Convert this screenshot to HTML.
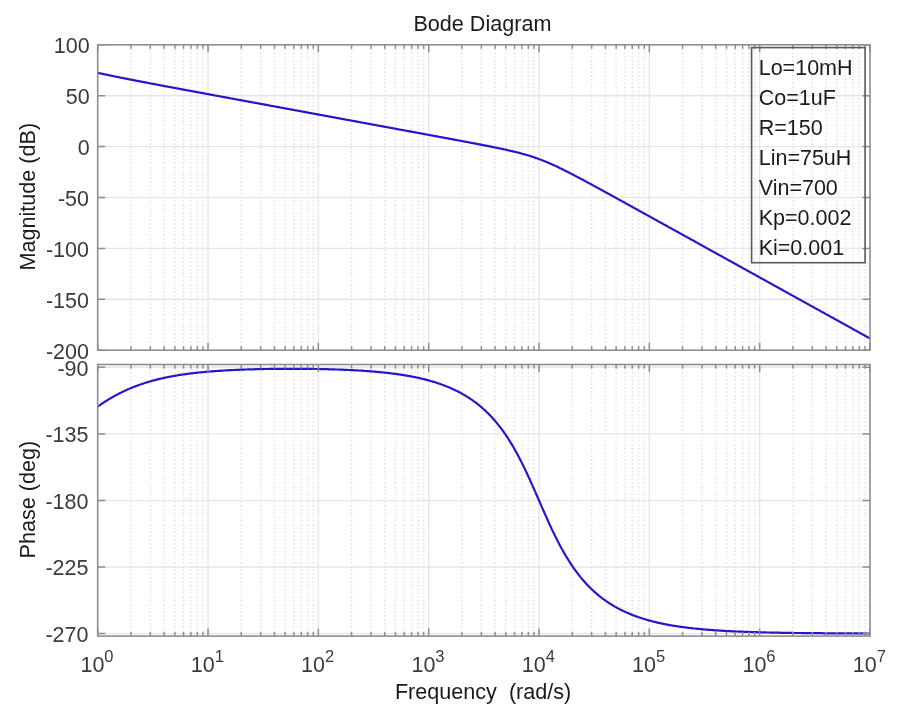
<!DOCTYPE html>
<html><head><meta charset="utf-8"><style>
html,body{margin:0;padding:0;background:#fff;}
body{width:906px;height:719px;position:relative;overflow:hidden;}
svg{position:absolute;left:0;top:0;font-family:"Liberation Sans",sans-serif;filter:blur(0.45px);}
</style></head><body>
<svg width="906" height="719" viewBox="0 0 906 719">
<path d="M130.91,44.8V350.2M150.34,44.8V350.2M164.12,44.8V350.2M174.82,44.8V350.2M183.55,44.8V350.2M190.94,44.8V350.2M197.34,44.8V350.2M202.98,44.8V350.2M241.24,44.8V350.2M260.67,44.8V350.2M274.45,44.8V350.2M285.14,44.8V350.2M293.88,44.8V350.2M301.27,44.8V350.2M307.67,44.8V350.2M313.31,44.8V350.2M351.57,44.8V350.2M371.00,44.8V350.2M384.78,44.8V350.2M395.47,44.8V350.2M404.21,44.8V350.2M411.60,44.8V350.2M417.99,44.8V350.2M423.64,44.8V350.2M461.90,44.8V350.2M481.33,44.8V350.2M495.11,44.8V350.2M505.80,44.8V350.2M514.54,44.8V350.2M521.92,44.8V350.2M528.32,44.8V350.2M533.97,44.8V350.2M572.23,44.8V350.2M591.65,44.8V350.2M605.44,44.8V350.2M616.13,44.8V350.2M624.87,44.8V350.2M632.25,44.8V350.2M638.65,44.8V350.2M644.29,44.8V350.2M682.56,44.8V350.2M701.98,44.8V350.2M715.77,44.8V350.2M726.46,44.8V350.2M735.20,44.8V350.2M742.58,44.8V350.2M748.98,44.8V350.2M754.62,44.8V350.2M792.88,44.8V350.2M812.31,44.8V350.2M826.10,44.8V350.2M836.79,44.8V350.2M845.52,44.8V350.2M852.91,44.8V350.2M859.31,44.8V350.2M864.95,44.8V350.2" stroke="#dcdcdc" stroke-width="1.4" stroke-dasharray="1.3 2.5"/>
<path d="M208.03,44.8V350.2M318.36,44.8V350.2M428.69,44.8V350.2M539.01,44.8V350.2M649.34,44.8V350.2M759.67,44.8V350.2M97.7,95.70H870.0M97.7,146.60H870.0M97.7,197.50H870.0M97.7,248.40H870.0M97.7,299.30H870.0" stroke="#e6e6e6" stroke-width="1.4"/>
<path d="M130.91,364.5V636.1M150.34,364.5V636.1M164.12,364.5V636.1M174.82,364.5V636.1M183.55,364.5V636.1M190.94,364.5V636.1M197.34,364.5V636.1M202.98,364.5V636.1M241.24,364.5V636.1M260.67,364.5V636.1M274.45,364.5V636.1M285.14,364.5V636.1M293.88,364.5V636.1M301.27,364.5V636.1M307.67,364.5V636.1M313.31,364.5V636.1M351.57,364.5V636.1M371.00,364.5V636.1M384.78,364.5V636.1M395.47,364.5V636.1M404.21,364.5V636.1M411.60,364.5V636.1M417.99,364.5V636.1M423.64,364.5V636.1M461.90,364.5V636.1M481.33,364.5V636.1M495.11,364.5V636.1M505.80,364.5V636.1M514.54,364.5V636.1M521.92,364.5V636.1M528.32,364.5V636.1M533.97,364.5V636.1M572.23,364.5V636.1M591.65,364.5V636.1M605.44,364.5V636.1M616.13,364.5V636.1M624.87,364.5V636.1M632.25,364.5V636.1M638.65,364.5V636.1M644.29,364.5V636.1M682.56,364.5V636.1M701.98,364.5V636.1M715.77,364.5V636.1M726.46,364.5V636.1M735.20,364.5V636.1M742.58,364.5V636.1M748.98,364.5V636.1M754.62,364.5V636.1M792.88,364.5V636.1M812.31,364.5V636.1M826.10,364.5V636.1M836.79,364.5V636.1M845.52,364.5V636.1M852.91,364.5V636.1M859.31,364.5V636.1M864.95,364.5V636.1" stroke="#dcdcdc" stroke-width="1.4" stroke-dasharray="1.3 2.5"/>
<path d="M208.03,364.5V636.1M318.36,364.5V636.1M428.69,364.5V636.1M539.01,364.5V636.1M649.34,364.5V636.1M759.67,364.5V636.1M97.7,367.30H870.0M97.7,433.88H870.0M97.7,500.45H870.0M97.7,567.02H870.0M97.7,633.60H870.0" stroke="#e6e6e6" stroke-width="1.4"/>
<path d="M97.7,72.8 L98.3,72.9 L99.0,73.1 L99.6,73.2 L100.3,73.4 L100.9,73.5 L101.6,73.6 L102.2,73.8 L102.9,73.9 L103.5,74.1 L104.1,74.2 L104.8,74.3 L105.4,74.5 L106.1,74.6 L106.7,74.7 L107.4,74.9 L108.0,75.0 L108.7,75.2 L109.3,75.3 L109.9,75.4 L110.6,75.6 L111.2,75.7 L111.9,75.8 L112.5,76.0 L113.2,76.1 L113.8,76.2 L114.4,76.4 L115.1,76.5 L115.7,76.6 L116.4,76.7 L117.0,76.9 L117.7,77.0 L118.3,77.1 L119.0,77.3 L119.6,77.4 L120.2,77.5 L120.9,77.7 L121.5,77.8 L122.2,77.9 L122.8,78.0 L123.5,78.2 L124.1,78.3 L124.8,78.4 L125.4,78.6 L126.0,78.7 L126.7,78.8 L127.3,78.9 L128.0,79.1 L128.6,79.2 L129.3,79.3 L129.9,79.4 L130.6,79.6 L131.2,79.7 L131.8,79.8 L132.5,79.9 L133.1,80.1 L133.8,80.2 L134.4,80.3 L135.1,80.4 L135.7,80.6 L136.3,80.7 L137.0,80.8 L137.6,80.9 L138.3,81.1 L138.9,81.2 L139.6,81.3 L140.2,81.4 L140.9,81.6 L141.5,81.7 L142.1,81.8 L142.8,81.9 L143.4,82.1 L144.1,82.2 L144.7,82.3 L145.4,82.4 L146.0,82.6 L146.7,82.7 L147.3,82.8 L147.9,82.9 L148.6,83.0 L149.2,83.2 L149.9,83.3 L150.5,83.4 L151.2,83.5 L151.8,83.7 L152.5,83.8 L153.1,83.9 L153.7,84.0 L154.4,84.1 L155.0,84.3 L155.7,84.4 L156.3,84.5 L157.0,84.6 L157.6,84.7 L158.2,84.9 L158.9,85.0 L159.5,85.1 L160.2,85.2 L160.8,85.4 L161.5,85.5 L162.1,85.6 L162.8,85.7 L163.4,85.8 L164.0,86.0 L164.7,86.1 L165.3,86.2 L166.0,86.3 L166.6,86.4 L167.3,86.6 L167.9,86.7 L168.6,86.8 L169.2,86.9 L169.8,87.0 L170.5,87.2 L171.1,87.3 L171.8,87.4 L172.4,87.5 L173.1,87.6 L173.7,87.8 L174.4,87.9 L175.0,88.0 L175.6,88.1 L176.3,88.2 L176.9,88.4 L177.6,88.5 L178.2,88.6 L178.9,88.7 L179.5,88.8 L180.1,89.0 L180.8,89.1 L181.4,89.2 L182.1,89.3 L182.7,89.4 L183.4,89.6 L184.0,89.7 L184.7,89.8 L185.3,89.9 L185.9,90.0 L186.6,90.2 L187.2,90.3 L187.9,90.4 L188.5,90.5 L189.2,90.6 L189.8,90.8 L190.5,90.9 L191.1,91.0 L191.7,91.1 L192.4,91.2 L193.0,91.4 L193.7,91.5 L194.3,91.6 L195.0,91.7 L195.6,91.8 L196.3,91.9 L196.9,92.1 L197.5,92.2 L198.2,92.3 L198.8,92.4 L199.5,92.5 L200.1,92.7 L200.8,92.8 L201.4,92.9 L202.0,93.0 L202.7,93.1 L203.3,93.3 L204.0,93.4 L204.6,93.5 L205.3,93.6 L205.9,93.7 L206.6,93.9 L207.2,94.0 L207.8,94.1 L208.5,94.2 L209.1,94.3 L209.8,94.5 L210.4,94.6 L211.1,94.7 L211.7,94.8 L212.4,94.9 L213.0,95.0 L213.6,95.2 L214.3,95.3 L214.9,95.4 L215.6,95.5 L216.2,95.6 L216.9,95.8 L217.5,95.9 L218.2,96.0 L218.8,96.1 L219.4,96.2 L220.1,96.4 L220.7,96.5 L221.4,96.6 L222.0,96.7 L222.7,96.8 L223.3,97.0 L223.9,97.1 L224.6,97.2 L225.2,97.3 L225.9,97.4 L226.5,97.5 L227.2,97.7 L227.8,97.8 L228.5,97.9 L229.1,98.0 L229.7,98.1 L230.4,98.3 L231.0,98.4 L231.7,98.5 L232.3,98.6 L233.0,98.7 L233.6,98.9 L234.3,99.0 L234.9,99.1 L235.5,99.2 L236.2,99.3 L236.8,99.5 L237.5,99.6 L238.1,99.7 L238.8,99.8 L239.4,99.9 L240.1,100.0 L240.7,100.2 L241.3,100.3 L242.0,100.4 L242.6,100.5 L243.3,100.6 L243.9,100.8 L244.6,100.9 L245.2,101.0 L245.8,101.1 L246.5,101.2 L247.1,101.4 L247.8,101.5 L248.4,101.6 L249.1,101.7 L249.7,101.8 L250.4,102.0 L251.0,102.1 L251.6,102.2 L252.3,102.3 L252.9,102.4 L253.6,102.5 L254.2,102.7 L254.9,102.8 L255.5,102.9 L256.2,103.0 L256.8,103.1 L257.4,103.3 L258.1,103.4 L258.7,103.5 L259.4,103.6 L260.0,103.7 L260.7,103.9 L261.3,104.0 L262.0,104.1 L262.6,104.2 L263.2,104.3 L263.9,104.4 L264.5,104.6 L265.2,104.7 L265.8,104.8 L266.5,104.9 L267.1,105.0 L267.7,105.2 L268.4,105.3 L269.0,105.4 L269.7,105.5 L270.3,105.6 L271.0,105.8 L271.6,105.9 L272.3,106.0 L272.9,106.1 L273.5,106.2 L274.2,106.3 L274.8,106.5 L275.5,106.6 L276.1,106.7 L276.8,106.8 L277.4,106.9 L278.1,107.1 L278.7,107.2 L279.3,107.3 L280.0,107.4 L280.6,107.5 L281.3,107.7 L281.9,107.8 L282.6,107.9 L283.2,108.0 L283.9,108.1 L284.5,108.3 L285.1,108.4 L285.8,108.5 L286.4,108.6 L287.1,108.7 L287.7,108.8 L288.4,109.0 L289.0,109.1 L289.6,109.2 L290.3,109.3 L290.9,109.4 L291.6,109.6 L292.2,109.7 L292.9,109.8 L293.5,109.9 L294.2,110.0 L294.8,110.2 L295.4,110.3 L296.1,110.4 L296.7,110.5 L297.4,110.6 L298.0,110.7 L298.7,110.9 L299.3,111.0 L300.0,111.1 L300.6,111.2 L301.2,111.3 L301.9,111.5 L302.5,111.6 L303.2,111.7 L303.8,111.8 L304.5,111.9 L305.1,112.1 L305.8,112.2 L306.4,112.3 L307.0,112.4 L307.7,112.5 L308.3,112.7 L309.0,112.8 L309.6,112.9 L310.3,113.0 L310.9,113.1 L311.5,113.2 L312.2,113.4 L312.8,113.5 L313.5,113.6 L314.1,113.7 L314.8,113.8 L315.4,114.0 L316.1,114.1 L316.7,114.2 L317.3,114.3 L318.0,114.4 L318.6,114.6 L319.3,114.7 L319.9,114.8 L320.6,114.9 L321.2,115.0 L321.9,115.1 L322.5,115.3 L323.1,115.4 L323.8,115.5 L324.4,115.6 L325.1,115.7 L325.7,115.9 L326.4,116.0 L327.0,116.1 L327.7,116.2 L328.3,116.3 L328.9,116.5 L329.6,116.6 L330.2,116.7 L330.9,116.8 L331.5,116.9 L332.2,117.0 L332.8,117.2 L333.4,117.3 L334.1,117.4 L334.7,117.5 L335.4,117.6 L336.0,117.8 L336.7,117.9 L337.3,118.0 L338.0,118.1 L338.6,118.2 L339.2,118.4 L339.9,118.5 L340.5,118.6 L341.2,118.7 L341.8,118.8 L342.5,119.0 L343.1,119.1 L343.8,119.2 L344.4,119.3 L345.0,119.4 L345.7,119.5 L346.3,119.7 L347.0,119.8 L347.6,119.9 L348.3,120.0 L348.9,120.1 L349.6,120.3 L350.2,120.4 L350.8,120.5 L351.5,120.6 L352.1,120.7 L352.8,120.9 L353.4,121.0 L354.1,121.1 L354.7,121.2 L355.3,121.3 L356.0,121.4 L356.6,121.6 L357.3,121.7 L357.9,121.8 L358.6,121.9 L359.2,122.0 L359.9,122.2 L360.5,122.3 L361.1,122.4 L361.8,122.5 L362.4,122.6 L363.1,122.8 L363.7,122.9 L364.4,123.0 L365.0,123.1 L365.7,123.2 L366.3,123.3 L366.9,123.5 L367.6,123.6 L368.2,123.7 L368.9,123.8 L369.5,123.9 L370.2,124.1 L370.8,124.2 L371.5,124.3 L372.1,124.4 L372.7,124.5 L373.4,124.7 L374.0,124.8 L374.7,124.9 L375.3,125.0 L376.0,125.1 L376.6,125.3 L377.2,125.4 L377.9,125.5 L378.5,125.6 L379.2,125.7 L379.8,125.8 L380.5,126.0 L381.1,126.1 L381.8,126.2 L382.4,126.3 L383.0,126.4 L383.7,126.6 L384.3,126.7 L385.0,126.8 L385.6,126.9 L386.3,127.0 L386.9,127.2 L387.6,127.3 L388.2,127.4 L388.8,127.5 L389.5,127.6 L390.1,127.7 L390.8,127.9 L391.4,128.0 L392.1,128.1 L392.7,128.2 L393.4,128.3 L394.0,128.5 L394.6,128.6 L395.3,128.7 L395.9,128.8 L396.6,128.9 L397.2,129.1 L397.9,129.2 L398.5,129.3 L399.1,129.4 L399.8,129.5 L400.4,129.7 L401.1,129.8 L401.7,129.9 L402.4,130.0 L403.0,130.1 L403.7,130.2 L404.3,130.4 L404.9,130.5 L405.6,130.6 L406.2,130.7 L406.9,130.8 L407.5,131.0 L408.2,131.1 L408.8,131.2 L409.5,131.3 L410.1,131.4 L410.7,131.6 L411.4,131.7 L412.0,131.8 L412.7,131.9 L413.3,132.0 L414.0,132.2 L414.6,132.3 L415.3,132.4 L415.9,132.5 L416.5,132.6 L417.2,132.7 L417.8,132.9 L418.5,133.0 L419.1,133.1 L419.8,133.2 L420.4,133.3 L421.0,133.5 L421.7,133.6 L422.3,133.7 L423.0,133.8 L423.6,133.9 L424.3,134.1 L424.9,134.2 L425.6,134.3 L426.2,134.4 L426.8,134.5 L427.5,134.7 L428.1,134.8 L428.8,134.9 L429.4,135.0 L430.1,135.1 L430.7,135.3 L431.4,135.4 L432.0,135.5 L432.6,135.6 L433.3,135.7 L433.9,135.8 L434.6,136.0 L435.2,136.1 L435.9,136.2 L436.5,136.3 L437.2,136.4 L437.8,136.6 L438.4,136.7 L439.1,136.8 L439.7,136.9 L440.4,137.0 L441.0,137.2 L441.7,137.3 L442.3,137.4 L442.9,137.5 L443.6,137.6 L444.2,137.8 L444.9,137.9 L445.5,138.0 L446.2,138.1 L446.8,138.2 L447.5,138.4 L448.1,138.5 L448.7,138.6 L449.4,138.7 L450.0,138.8 L450.7,139.0 L451.3,139.1 L452.0,139.2 L452.6,139.3 L453.3,139.4 L453.9,139.6 L454.5,139.7 L455.2,139.8 L455.8,139.9 L456.5,140.0 L457.1,140.2 L457.8,140.3 L458.4,140.4 L459.1,140.5 L459.7,140.6 L460.3,140.8 L461.0,140.9 L461.6,141.0 L462.3,141.1 L462.9,141.3 L463.6,141.4 L464.2,141.5 L464.8,141.6 L465.5,141.7 L466.1,141.9 L466.8,142.0 L467.4,142.1 L468.1,142.2 L468.7,142.3 L469.4,142.5 L470.0,142.6 L470.6,142.7 L471.3,142.8 L471.9,143.0 L472.6,143.1 L473.2,143.2 L473.9,143.3 L474.5,143.4 L475.2,143.6 L475.8,143.7 L476.4,143.8 L477.1,143.9 L477.7,144.1 L478.4,144.2 L479.0,144.3 L479.7,144.4 L480.3,144.6 L481.0,144.7 L481.6,144.8 L482.2,144.9 L482.9,145.1 L483.5,145.2 L484.2,145.3 L484.8,145.4 L485.5,145.6 L486.1,145.7 L486.7,145.8 L487.4,145.9 L488.0,146.1 L488.7,146.2 L489.3,146.3 L490.0,146.4 L490.6,146.6 L491.3,146.7 L491.9,146.8 L492.5,147.0 L493.2,147.1 L493.8,147.2 L494.5,147.4 L495.1,147.5 L495.8,147.6 L496.4,147.7 L497.1,147.9 L497.7,148.0 L498.3,148.1 L499.0,148.3 L499.6,148.4 L500.3,148.5 L500.9,148.7 L501.6,148.8 L502.2,149.0 L502.9,149.1 L503.5,149.2 L504.1,149.4 L504.8,149.5 L505.4,149.6 L506.1,149.8 L506.7,149.9 L507.4,150.1 L508.0,150.2 L508.6,150.4 L509.3,150.5 L509.9,150.7 L510.6,150.8 L511.2,151.0 L511.9,151.1 L512.5,151.3 L513.2,151.4 L513.8,151.6 L514.4,151.7 L515.1,151.9 L515.7,152.0 L516.4,152.2 L517.0,152.3 L517.7,152.5 L518.3,152.7 L519.0,152.8 L519.6,153.0 L520.2,153.2 L520.9,153.3 L521.5,153.5 L522.2,153.7 L522.8,153.9 L523.5,154.0 L524.1,154.2 L524.8,154.4 L525.4,154.6 L526.0,154.8 L526.7,155.0 L527.3,155.2 L528.0,155.3 L528.6,155.5 L529.3,155.7 L529.9,155.9 L530.5,156.1 L531.2,156.3 L531.8,156.6 L532.5,156.8 L533.1,157.0 L533.8,157.2 L534.4,157.4 L535.1,157.6 L535.7,157.9 L536.3,158.1 L537.0,158.3 L537.6,158.5 L538.3,158.8 L538.9,159.0 L539.6,159.2 L540.2,159.5 L540.9,159.7 L541.5,160.0 L542.1,160.2 L542.8,160.5 L543.4,160.7 L544.1,161.0 L544.7,161.2 L545.4,161.5 L546.0,161.8 L546.7,162.0 L547.3,162.3 L547.9,162.6 L548.6,162.9 L549.2,163.1 L549.9,163.4 L550.5,163.7 L551.2,164.0 L551.8,164.3 L552.4,164.6 L553.1,164.9 L553.7,165.1 L554.4,165.4 L555.0,165.7 L555.7,166.0 L556.3,166.3 L557.0,166.6 L557.6,166.9 L558.2,167.3 L558.9,167.6 L559.5,167.9 L560.2,168.2 L560.8,168.5 L561.5,168.8 L562.1,169.1 L562.8,169.4 L563.4,169.8 L564.0,170.1 L564.7,170.4 L565.3,170.7 L566.0,171.0 L566.6,171.4 L567.3,171.7 L567.9,172.0 L568.6,172.4 L569.2,172.7 L569.8,173.0 L570.5,173.3 L571.1,173.7 L571.8,174.0 L572.4,174.3 L573.1,174.7 L573.7,175.0 L574.3,175.4 L575.0,175.7 L575.6,176.0 L576.3,176.4 L576.9,176.7 L577.6,177.0 L578.2,177.4 L578.9,177.7 L579.5,178.1 L580.1,178.4 L580.8,178.8 L581.4,179.1 L582.1,179.4 L582.7,179.8 L583.4,180.1 L584.0,180.5 L584.7,180.8 L585.3,181.2 L585.9,181.5 L586.6,181.9 L587.2,182.2 L587.9,182.6 L588.5,182.9 L589.2,183.2 L589.8,183.6 L590.5,183.9 L591.1,184.3 L591.7,184.6 L592.4,185.0 L593.0,185.3 L593.7,185.7 L594.3,186.0 L595.0,186.4 L595.6,186.7 L596.2,187.1 L596.9,187.4 L597.5,187.8 L598.2,188.1 L598.8,188.5 L599.5,188.8 L600.1,189.2 L600.8,189.6 L601.4,189.9 L602.0,190.3 L602.7,190.6 L603.3,191.0 L604.0,191.3 L604.6,191.7 L605.3,192.0 L605.9,192.4 L606.6,192.7 L607.2,193.1 L607.8,193.4 L608.5,193.8 L609.1,194.1 L609.8,194.5 L610.4,194.8 L611.1,195.2 L611.7,195.6 L612.4,195.9 L613.0,196.3 L613.6,196.6 L614.3,197.0 L614.9,197.3 L615.6,197.7 L616.2,198.0 L616.9,198.4 L617.5,198.7 L618.1,199.1 L618.8,199.5 L619.4,199.8 L620.1,200.2 L620.7,200.5 L621.4,200.9 L622.0,201.2 L622.7,201.6 L623.3,201.9 L623.9,202.3 L624.6,202.6 L625.2,203.0 L625.9,203.4 L626.5,203.7 L627.2,204.1 L627.8,204.4 L628.5,204.8 L629.1,205.1 L629.7,205.5 L630.4,205.8 L631.0,206.2 L631.7,206.6 L632.3,206.9 L633.0,207.3 L633.6,207.6 L634.3,208.0 L634.9,208.3 L635.5,208.7 L636.2,209.0 L636.8,209.4 L637.5,209.8 L638.1,210.1 L638.8,210.5 L639.4,210.8 L640.0,211.2 L640.7,211.5 L641.3,211.9 L642.0,212.2 L642.6,212.6 L643.3,213.0 L643.9,213.3 L644.6,213.7 L645.2,214.0 L645.8,214.4 L646.5,214.7 L647.1,215.1 L647.8,215.5 L648.4,215.8 L649.1,216.2 L649.7,216.5 L650.4,216.9 L651.0,217.2 L651.6,217.6 L652.3,217.9 L652.9,218.3 L653.6,218.7 L654.2,219.0 L654.9,219.4 L655.5,219.7 L656.2,220.1 L656.8,220.4 L657.4,220.8 L658.1,221.2 L658.7,221.5 L659.4,221.9 L660.0,222.2 L660.7,222.6 L661.3,222.9 L661.9,223.3 L662.6,223.6 L663.2,224.0 L663.9,224.4 L664.5,224.7 L665.2,225.1 L665.8,225.4 L666.5,225.8 L667.1,226.1 L667.7,226.5 L668.4,226.9 L669.0,227.2 L669.7,227.6 L670.3,227.9 L671.0,228.3 L671.6,228.6 L672.3,229.0 L672.9,229.3 L673.5,229.7 L674.2,230.1 L674.8,230.4 L675.5,230.8 L676.1,231.1 L676.8,231.5 L677.4,231.8 L678.1,232.2 L678.7,232.6 L679.3,232.9 L680.0,233.3 L680.6,233.6 L681.3,234.0 L681.9,234.3 L682.6,234.7 L683.2,235.1 L683.8,235.4 L684.5,235.8 L685.1,236.1 L685.8,236.5 L686.4,236.8 L687.1,237.2 L687.7,237.5 L688.4,237.9 L689.0,238.3 L689.6,238.6 L690.3,239.0 L690.9,239.3 L691.6,239.7 L692.2,240.0 L692.9,240.4 L693.5,240.8 L694.2,241.1 L694.8,241.5 L695.4,241.8 L696.1,242.2 L696.7,242.5 L697.4,242.9 L698.0,243.3 L698.7,243.6 L699.3,244.0 L700.0,244.3 L700.6,244.7 L701.2,245.0 L701.9,245.4 L702.5,245.7 L703.2,246.1 L703.8,246.5 L704.5,246.8 L705.1,247.2 L705.7,247.5 L706.4,247.9 L707.0,248.2 L707.7,248.6 L708.3,249.0 L709.0,249.3 L709.6,249.7 L710.3,250.0 L710.9,250.4 L711.5,250.7 L712.2,251.1 L712.8,251.5 L713.5,251.8 L714.1,252.2 L714.8,252.5 L715.4,252.9 L716.1,253.2 L716.7,253.6 L717.3,253.9 L718.0,254.3 L718.6,254.7 L719.3,255.0 L719.9,255.4 L720.6,255.7 L721.2,256.1 L721.9,256.4 L722.5,256.8 L723.1,257.2 L723.8,257.5 L724.4,257.9 L725.1,258.2 L725.7,258.6 L726.4,258.9 L727.0,259.3 L727.6,259.7 L728.3,260.0 L728.9,260.4 L729.6,260.7 L730.2,261.1 L730.9,261.4 L731.5,261.8 L732.2,262.1 L732.8,262.5 L733.4,262.9 L734.1,263.2 L734.7,263.6 L735.4,263.9 L736.0,264.3 L736.7,264.6 L737.3,265.0 L738.0,265.4 L738.6,265.7 L739.2,266.1 L739.9,266.4 L740.5,266.8 L741.2,267.1 L741.8,267.5 L742.5,267.9 L743.1,268.2 L743.8,268.6 L744.4,268.9 L745.0,269.3 L745.7,269.6 L746.3,270.0 L747.0,270.4 L747.6,270.7 L748.3,271.1 L748.9,271.4 L749.5,271.8 L750.2,272.1 L750.8,272.5 L751.5,272.8 L752.1,273.2 L752.8,273.6 L753.4,273.9 L754.1,274.3 L754.7,274.6 L755.3,275.0 L756.0,275.3 L756.6,275.7 L757.3,276.1 L757.9,276.4 L758.6,276.8 L759.2,277.1 L759.9,277.5 L760.5,277.8 L761.1,278.2 L761.8,278.6 L762.4,278.9 L763.1,279.3 L763.7,279.6 L764.4,280.0 L765.0,280.3 L765.7,280.7 L766.3,281.0 L766.9,281.4 L767.6,281.8 L768.2,282.1 L768.9,282.5 L769.5,282.8 L770.2,283.2 L770.8,283.5 L771.4,283.9 L772.1,284.3 L772.7,284.6 L773.4,285.0 L774.0,285.3 L774.7,285.7 L775.3,286.0 L776.0,286.4 L776.6,286.8 L777.2,287.1 L777.9,287.5 L778.5,287.8 L779.2,288.2 L779.8,288.5 L780.5,288.9 L781.1,289.3 L781.8,289.6 L782.4,290.0 L783.0,290.3 L783.7,290.7 L784.3,291.0 L785.0,291.4 L785.6,291.7 L786.3,292.1 L786.9,292.5 L787.6,292.8 L788.2,293.2 L788.8,293.5 L789.5,293.9 L790.1,294.2 L790.8,294.6 L791.4,295.0 L792.1,295.3 L792.7,295.7 L793.3,296.0 L794.0,296.4 L794.6,296.7 L795.3,297.1 L795.9,297.5 L796.6,297.8 L797.2,298.2 L797.9,298.5 L798.5,298.9 L799.1,299.2 L799.8,299.6 L800.4,299.9 L801.1,300.3 L801.7,300.7 L802.4,301.0 L803.0,301.4 L803.7,301.7 L804.3,302.1 L804.9,302.4 L805.6,302.8 L806.2,303.2 L806.9,303.5 L807.5,303.9 L808.2,304.2 L808.8,304.6 L809.5,304.9 L810.1,305.3 L810.7,305.7 L811.4,306.0 L812.0,306.4 L812.7,306.7 L813.3,307.1 L814.0,307.4 L814.6,307.8 L815.2,308.2 L815.9,308.5 L816.5,308.9 L817.2,309.2 L817.8,309.6 L818.5,309.9 L819.1,310.3 L819.8,310.6 L820.4,311.0 L821.0,311.4 L821.7,311.7 L822.3,312.1 L823.0,312.4 L823.6,312.8 L824.3,313.1 L824.9,313.5 L825.6,313.9 L826.2,314.2 L826.8,314.6 L827.5,314.9 L828.1,315.3 L828.8,315.6 L829.4,316.0 L830.1,316.4 L830.7,316.7 L831.4,317.1 L832.0,317.4 L832.6,317.8 L833.3,318.1 L833.9,318.5 L834.6,318.8 L835.2,319.2 L835.9,319.6 L836.5,319.9 L837.1,320.3 L837.8,320.6 L838.4,321.0 L839.1,321.3 L839.7,321.7 L840.4,322.1 L841.0,322.4 L841.7,322.8 L842.3,323.1 L842.9,323.5 L843.6,323.8 L844.2,324.2 L844.9,324.6 L845.5,324.9 L846.2,325.3 L846.8,325.6 L847.5,326.0 L848.1,326.3 L848.7,326.7 L849.4,327.0 L850.0,327.4 L850.7,327.8 L851.3,328.1 L852.0,328.5 L852.6,328.8 L853.3,329.2 L853.9,329.5 L854.5,329.9 L855.2,330.3 L855.8,330.6 L856.5,331.0 L857.1,331.3 L857.8,331.7 L858.4,332.0 L859.0,332.4 L859.7,332.8 L860.3,333.1 L861.0,333.5 L861.6,333.8 L862.3,334.2 L862.9,334.5 L863.6,334.9 L864.2,335.3 L864.8,335.6 L865.5,336.0 L866.1,336.3 L866.8,336.7 L867.4,337.0 L868.1,337.4 L868.7,337.7 L869.4,338.1 L870.0,338.5 L870.0,338.5" fill="none" stroke="#2418c8" stroke-width="2.2" stroke-linejoin="round"/>
<path d="M97.7,406.6 L98.3,406.2 L99.0,405.7 L99.6,405.3 L100.3,404.8 L100.9,404.4 L101.6,403.9 L102.2,403.5 L102.9,403.1 L103.5,402.7 L104.1,402.2 L104.8,401.8 L105.4,401.4 L106.1,401.0 L106.7,400.6 L107.4,400.2 L108.0,399.8 L108.7,399.4 L109.3,399.0 L109.9,398.6 L110.6,398.3 L111.2,397.9 L111.9,397.5 L112.5,397.1 L113.2,396.8 L113.8,396.4 L114.4,396.0 L115.1,395.7 L115.7,395.3 L116.4,395.0 L117.0,394.6 L117.7,394.3 L118.3,394.0 L119.0,393.6 L119.6,393.3 L120.2,393.0 L120.9,392.7 L121.5,392.3 L122.2,392.0 L122.8,391.7 L123.5,391.4 L124.1,391.1 L124.8,390.8 L125.4,390.5 L126.0,390.2 L126.7,389.9 L127.3,389.6 L128.0,389.3 L128.6,389.1 L129.3,388.8 L129.9,388.5 L130.6,388.2 L131.2,388.0 L131.8,387.7 L132.5,387.4 L133.1,387.2 L133.8,386.9 L134.4,386.7 L135.1,386.4 L135.7,386.2 L136.3,385.9 L137.0,385.7 L137.6,385.5 L138.3,385.2 L138.9,385.0 L139.6,384.8 L140.2,384.5 L140.9,384.3 L141.5,384.1 L142.1,383.9 L142.8,383.7 L143.4,383.5 L144.1,383.2 L144.7,383.0 L145.4,382.8 L146.0,382.6 L146.7,382.4 L147.3,382.2 L147.9,382.0 L148.6,381.8 L149.2,381.7 L149.9,381.5 L150.5,381.3 L151.2,381.1 L151.8,380.9 L152.5,380.7 L153.1,380.6 L153.7,380.4 L154.4,380.2 L155.0,380.1 L155.7,379.9 L156.3,379.7 L157.0,379.6 L157.6,379.4 L158.2,379.2 L158.9,379.1 L159.5,378.9 L160.2,378.8 L160.8,378.6 L161.5,378.5 L162.1,378.3 L162.8,378.2 L163.4,378.1 L164.0,377.9 L164.7,377.8 L165.3,377.6 L166.0,377.5 L166.6,377.4 L167.3,377.2 L167.9,377.1 L168.6,377.0 L169.2,376.8 L169.8,376.7 L170.5,376.6 L171.1,376.5 L171.8,376.4 L172.4,376.2 L173.1,376.1 L173.7,376.0 L174.4,375.9 L175.0,375.8 L175.6,375.7 L176.3,375.6 L176.9,375.5 L177.6,375.3 L178.2,375.2 L178.9,375.1 L179.5,375.0 L180.1,374.9 L180.8,374.8 L181.4,374.7 L182.1,374.6 L182.7,374.5 L183.4,374.5 L184.0,374.4 L184.7,374.3 L185.3,374.2 L185.9,374.1 L186.6,374.0 L187.2,373.9 L187.9,373.8 L188.5,373.7 L189.2,373.7 L189.8,373.6 L190.5,373.5 L191.1,373.4 L191.7,373.3 L192.4,373.3 L193.0,373.2 L193.7,373.1 L194.3,373.0 L195.0,373.0 L195.6,372.9 L196.3,372.8 L196.9,372.7 L197.5,372.7 L198.2,372.6 L198.8,372.5 L199.5,372.5 L200.1,372.4 L200.8,372.3 L201.4,372.3 L202.0,372.2 L202.7,372.1 L203.3,372.1 L204.0,372.0 L204.6,372.0 L205.3,371.9 L205.9,371.9 L206.6,371.8 L207.2,371.7 L207.8,371.7 L208.5,371.6 L209.1,371.6 L209.8,371.5 L210.4,371.5 L211.1,371.4 L211.7,371.4 L212.4,371.3 L213.0,371.3 L213.6,371.2 L214.3,371.2 L214.9,371.1 L215.6,371.1 L216.2,371.0 L216.9,371.0 L217.5,370.9 L218.2,370.9 L218.8,370.8 L219.4,370.8 L220.1,370.8 L220.7,370.7 L221.4,370.7 L222.0,370.6 L222.7,370.6 L223.3,370.6 L223.9,370.5 L224.6,370.5 L225.2,370.4 L225.9,370.4 L226.5,370.4 L227.2,370.3 L227.8,370.3 L228.5,370.3 L229.1,370.2 L229.7,370.2 L230.4,370.2 L231.0,370.1 L231.7,370.1 L232.3,370.1 L233.0,370.0 L233.6,370.0 L234.3,370.0 L234.9,369.9 L235.5,369.9 L236.2,369.9 L236.8,369.9 L237.5,369.8 L238.1,369.8 L238.8,369.8 L239.4,369.8 L240.1,369.7 L240.7,369.7 L241.3,369.7 L242.0,369.7 L242.6,369.6 L243.3,369.6 L243.9,369.6 L244.6,369.6 L245.2,369.5 L245.8,369.5 L246.5,369.5 L247.1,369.5 L247.8,369.4 L248.4,369.4 L249.1,369.4 L249.7,369.4 L250.4,369.4 L251.0,369.3 L251.6,369.3 L252.3,369.3 L252.9,369.3 L253.6,369.3 L254.2,369.3 L254.9,369.2 L255.5,369.2 L256.2,369.2 L256.8,369.2 L257.4,369.2 L258.1,369.2 L258.7,369.1 L259.4,369.1 L260.0,369.1 L260.7,369.1 L261.3,369.1 L262.0,369.1 L262.6,369.1 L263.2,369.1 L263.9,369.0 L264.5,369.0 L265.2,369.0 L265.8,369.0 L266.5,369.0 L267.1,369.0 L267.7,369.0 L268.4,369.0 L269.0,369.0 L269.7,368.9 L270.3,368.9 L271.0,368.9 L271.6,368.9 L272.3,368.9 L272.9,368.9 L273.5,368.9 L274.2,368.9 L274.8,368.9 L275.5,368.9 L276.1,368.9 L276.8,368.9 L277.4,368.9 L278.1,368.8 L278.7,368.8 L279.3,368.8 L280.0,368.8 L280.6,368.8 L281.3,368.8 L281.9,368.8 L282.6,368.8 L283.2,368.8 L283.9,368.8 L284.5,368.8 L285.1,368.8 L285.8,368.8 L286.4,368.8 L287.1,368.8 L287.7,368.8 L288.4,368.8 L289.0,368.8 L289.6,368.8 L290.3,368.8 L290.9,368.8 L291.6,368.8 L292.2,368.8 L292.9,368.8 L293.5,368.8 L294.2,368.8 L294.8,368.8 L295.4,368.8 L296.1,368.8 L296.7,368.8 L297.4,368.8 L298.0,368.8 L298.7,368.8 L299.3,368.8 L300.0,368.8 L300.6,368.8 L301.2,368.8 L301.9,368.8 L302.5,368.8 L303.2,368.8 L303.8,368.8 L304.5,368.8 L305.1,368.8 L305.8,368.9 L306.4,368.9 L307.0,368.9 L307.7,368.9 L308.3,368.9 L309.0,368.9 L309.6,368.9 L310.3,368.9 L310.9,368.9 L311.5,368.9 L312.2,368.9 L312.8,368.9 L313.5,368.9 L314.1,369.0 L314.8,369.0 L315.4,369.0 L316.1,369.0 L316.7,369.0 L317.3,369.0 L318.0,369.0 L318.6,369.0 L319.3,369.0 L319.9,369.1 L320.6,369.1 L321.2,369.1 L321.9,369.1 L322.5,369.1 L323.1,369.1 L323.8,369.1 L324.4,369.2 L325.1,369.2 L325.7,369.2 L326.4,369.2 L327.0,369.2 L327.7,369.2 L328.3,369.3 L328.9,369.3 L329.6,369.3 L330.2,369.3 L330.9,369.3 L331.5,369.3 L332.2,369.4 L332.8,369.4 L333.4,369.4 L334.1,369.4 L334.7,369.4 L335.4,369.5 L336.0,369.5 L336.7,369.5 L337.3,369.5 L338.0,369.5 L338.6,369.6 L339.2,369.6 L339.9,369.6 L340.5,369.6 L341.2,369.7 L341.8,369.7 L342.5,369.7 L343.1,369.7 L343.8,369.8 L344.4,369.8 L345.0,369.8 L345.7,369.8 L346.3,369.9 L347.0,369.9 L347.6,369.9 L348.3,370.0 L348.9,370.0 L349.6,370.0 L350.2,370.1 L350.8,370.1 L351.5,370.1 L352.1,370.2 L352.8,370.2 L353.4,370.2 L354.1,370.3 L354.7,370.3 L355.3,370.3 L356.0,370.4 L356.6,370.4 L357.3,370.4 L357.9,370.5 L358.6,370.5 L359.2,370.5 L359.9,370.6 L360.5,370.6 L361.1,370.7 L361.8,370.7 L362.4,370.7 L363.1,370.8 L363.7,370.8 L364.4,370.9 L365.0,370.9 L365.7,371.0 L366.3,371.0 L366.9,371.1 L367.6,371.1 L368.2,371.1 L368.9,371.2 L369.5,371.2 L370.2,371.3 L370.8,371.3 L371.5,371.4 L372.1,371.4 L372.7,371.5 L373.4,371.6 L374.0,371.6 L374.7,371.7 L375.3,371.7 L376.0,371.8 L376.6,371.8 L377.2,371.9 L377.9,371.9 L378.5,372.0 L379.2,372.1 L379.8,372.1 L380.5,372.2 L381.1,372.3 L381.8,372.3 L382.4,372.4 L383.0,372.4 L383.7,372.5 L384.3,372.6 L385.0,372.7 L385.6,372.7 L386.3,372.8 L386.9,372.9 L387.6,372.9 L388.2,373.0 L388.8,373.1 L389.5,373.2 L390.1,373.2 L390.8,373.3 L391.4,373.4 L392.1,373.5 L392.7,373.6 L393.4,373.6 L394.0,373.7 L394.6,373.8 L395.3,373.9 L395.9,374.0 L396.6,374.1 L397.2,374.2 L397.9,374.2 L398.5,374.3 L399.1,374.4 L399.8,374.5 L400.4,374.6 L401.1,374.7 L401.7,374.8 L402.4,374.9 L403.0,375.0 L403.7,375.1 L404.3,375.2 L404.9,375.3 L405.6,375.4 L406.2,375.5 L406.9,375.7 L407.5,375.8 L408.2,375.9 L408.8,376.0 L409.5,376.1 L410.1,376.2 L410.7,376.3 L411.4,376.5 L412.0,376.6 L412.7,376.7 L413.3,376.8 L414.0,377.0 L414.6,377.1 L415.3,377.2 L415.9,377.4 L416.5,377.5 L417.2,377.6 L417.8,377.8 L418.5,377.9 L419.1,378.1 L419.8,378.2 L420.4,378.3 L421.0,378.5 L421.7,378.6 L422.3,378.8 L423.0,379.0 L423.6,379.1 L424.3,379.3 L424.9,379.4 L425.6,379.6 L426.2,379.8 L426.8,379.9 L427.5,380.1 L428.1,380.3 L428.8,380.4 L429.4,380.6 L430.1,380.8 L430.7,381.0 L431.4,381.2 L432.0,381.4 L432.6,381.6 L433.3,381.7 L433.9,381.9 L434.6,382.1 L435.2,382.3 L435.9,382.5 L436.5,382.7 L437.2,383.0 L437.8,383.2 L438.4,383.4 L439.1,383.6 L439.7,383.8 L440.4,384.0 L441.0,384.3 L441.7,384.5 L442.3,384.7 L442.9,385.0 L443.6,385.2 L444.2,385.5 L444.9,385.7 L445.5,386.0 L446.2,386.2 L446.8,386.5 L447.5,386.7 L448.1,387.0 L448.7,387.3 L449.4,387.5 L450.0,387.8 L450.7,388.1 L451.3,388.4 L452.0,388.7 L452.6,389.0 L453.3,389.2 L453.9,389.5 L454.5,389.9 L455.2,390.2 L455.8,390.5 L456.5,390.8 L457.1,391.1 L457.8,391.4 L458.4,391.8 L459.1,392.1 L459.7,392.4 L460.3,392.8 L461.0,393.1 L461.6,393.5 L462.3,393.8 L462.9,394.2 L463.6,394.6 L464.2,395.0 L464.8,395.3 L465.5,395.7 L466.1,396.1 L466.8,396.5 L467.4,396.9 L468.1,397.3 L468.7,397.7 L469.4,398.2 L470.0,398.6 L470.6,399.0 L471.3,399.4 L471.9,399.9 L472.6,400.3 L473.2,400.8 L473.9,401.3 L474.5,401.7 L475.2,402.2 L475.8,402.7 L476.4,403.2 L477.1,403.7 L477.7,404.2 L478.4,404.7 L479.0,405.2 L479.7,405.7 L480.3,406.3 L481.0,406.8 L481.6,407.4 L482.2,407.9 L482.9,408.5 L483.5,409.1 L484.2,409.6 L484.8,410.2 L485.5,410.8 L486.1,411.4 L486.7,412.1 L487.4,412.7 L488.0,413.3 L488.7,414.0 L489.3,414.6 L490.0,415.3 L490.6,416.0 L491.3,416.6 L491.9,417.3 L492.5,418.0 L493.2,418.8 L493.8,419.5 L494.5,420.2 L495.1,421.0 L495.8,421.7 L496.4,422.5 L497.1,423.3 L497.7,424.1 L498.3,424.9 L499.0,425.7 L499.6,426.5 L500.3,427.3 L500.9,428.2 L501.6,429.0 L502.2,429.9 L502.9,430.8 L503.5,431.7 L504.1,432.6 L504.8,433.5 L505.4,434.4 L506.1,435.4 L506.7,436.4 L507.4,437.3 L508.0,438.3 L508.6,439.3 L509.3,440.3 L509.9,441.4 L510.6,442.4 L511.2,443.5 L511.9,444.5 L512.5,445.6 L513.2,446.7 L513.8,447.8 L514.4,448.9 L515.1,450.1 L515.7,451.2 L516.4,452.4 L517.0,453.6 L517.7,454.8 L518.3,456.0 L519.0,457.2 L519.6,458.4 L520.2,459.7 L520.9,460.9 L521.5,462.2 L522.2,463.5 L522.8,464.8 L523.5,466.1 L524.1,467.4 L524.8,468.8 L525.4,470.1 L526.0,471.5 L526.7,472.8 L527.3,474.2 L528.0,475.6 L528.6,477.0 L529.3,478.4 L529.9,479.8 L530.5,481.2 L531.2,482.7 L531.8,484.1 L532.5,485.6 L533.1,487.0 L533.8,488.5 L534.4,489.9 L535.1,491.4 L535.7,492.9 L536.3,494.3 L537.0,495.8 L537.6,497.3 L538.3,498.8 L538.9,500.2 L539.6,501.7 L540.2,503.2 L540.9,504.7 L541.5,506.2 L542.1,507.6 L542.8,509.1 L543.4,510.6 L544.1,512.0 L544.7,513.5 L545.4,514.9 L546.0,516.4 L546.7,517.8 L547.3,519.3 L547.9,520.7 L548.6,522.1 L549.2,523.5 L549.9,524.9 L550.5,526.3 L551.2,527.7 L551.8,529.1 L552.4,530.4 L553.1,531.8 L553.7,533.1 L554.4,534.4 L555.0,535.7 L555.7,537.0 L556.3,538.3 L557.0,539.6 L557.6,540.9 L558.2,542.1 L558.9,543.4 L559.5,544.6 L560.2,545.8 L560.8,547.0 L561.5,548.2 L562.1,549.3 L562.8,550.5 L563.4,551.6 L564.0,552.8 L564.7,553.9 L565.3,555.0 L566.0,556.1 L566.6,557.1 L567.3,558.2 L567.9,559.2 L568.6,560.3 L569.2,561.3 L569.8,562.3 L570.5,563.3 L571.1,564.3 L571.8,565.2 L572.4,566.2 L573.1,567.1 L573.7,568.1 L574.3,569.0 L575.0,569.9 L575.6,570.8 L576.3,571.6 L576.9,572.5 L577.6,573.3 L578.2,574.2 L578.9,575.0 L579.5,575.8 L580.1,576.6 L580.8,577.4 L581.4,578.2 L582.1,579.0 L582.7,579.7 L583.4,580.5 L584.0,581.2 L584.7,582.0 L585.3,582.7 L585.9,583.4 L586.6,584.1 L587.2,584.8 L587.9,585.4 L588.5,586.1 L589.2,586.8 L589.8,587.4 L590.5,588.0 L591.1,588.7 L591.7,589.3 L592.4,589.9 L593.0,590.5 L593.7,591.1 L594.3,591.7 L595.0,592.3 L595.6,592.8 L596.2,593.4 L596.9,593.9 L597.5,594.5 L598.2,595.0 L598.8,595.6 L599.5,596.1 L600.1,596.6 L600.8,597.1 L601.4,597.6 L602.0,598.1 L602.7,598.6 L603.3,599.1 L604.0,599.5 L604.6,600.0 L605.3,600.4 L605.9,600.9 L606.6,601.3 L607.2,601.8 L607.8,602.2 L608.5,602.6 L609.1,603.1 L609.8,603.5 L610.4,603.9 L611.1,604.3 L611.7,604.7 L612.4,605.1 L613.0,605.5 L613.6,605.9 L614.3,606.2 L614.9,606.6 L615.6,607.0 L616.2,607.3 L616.9,607.7 L617.5,608.0 L618.1,608.4 L618.8,608.7 L619.4,609.1 L620.1,609.4 L620.7,609.7 L621.4,610.0 L622.0,610.4 L622.7,610.7 L623.3,611.0 L623.9,611.3 L624.6,611.6 L625.2,611.9 L625.9,612.2 L626.5,612.5 L627.2,612.8 L627.8,613.0 L628.5,613.3 L629.1,613.6 L629.7,613.9 L630.4,614.1 L631.0,614.4 L631.7,614.6 L632.3,614.9 L633.0,615.2 L633.6,615.4 L634.3,615.6 L634.9,615.9 L635.5,616.1 L636.2,616.4 L636.8,616.6 L637.5,616.8 L638.1,617.0 L638.8,617.3 L639.4,617.5 L640.0,617.7 L640.7,617.9 L641.3,618.1 L642.0,618.3 L642.6,618.5 L643.3,618.7 L643.9,618.9 L644.6,619.1 L645.2,619.3 L645.8,619.5 L646.5,619.7 L647.1,619.9 L647.8,620.1 L648.4,620.3 L649.1,620.4 L649.7,620.6 L650.4,620.8 L651.0,621.0 L651.6,621.1 L652.3,621.3 L652.9,621.5 L653.6,621.6 L654.2,621.8 L654.9,621.9 L655.5,622.1 L656.2,622.3 L656.8,622.4 L657.4,622.6 L658.1,622.7 L658.7,622.9 L659.4,623.0 L660.0,623.1 L660.7,623.3 L661.3,623.4 L661.9,623.6 L662.6,623.7 L663.2,623.8 L663.9,624.0 L664.5,624.1 L665.2,624.2 L665.8,624.3 L666.5,624.5 L667.1,624.6 L667.7,624.7 L668.4,624.8 L669.0,624.9 L669.7,625.1 L670.3,625.2 L671.0,625.3 L671.6,625.4 L672.3,625.5 L672.9,625.6 L673.5,625.7 L674.2,625.8 L674.8,625.9 L675.5,626.0 L676.1,626.1 L676.8,626.2 L677.4,626.3 L678.1,626.4 L678.7,626.5 L679.3,626.6 L680.0,626.7 L680.6,626.8 L681.3,626.9 L681.9,627.0 L682.6,627.1 L683.2,627.2 L683.8,627.2 L684.5,627.3 L685.1,627.4 L685.8,627.5 L686.4,627.6 L687.1,627.7 L687.7,627.7 L688.4,627.8 L689.0,627.9 L689.6,628.0 L690.3,628.0 L690.9,628.1 L691.6,628.2 L692.2,628.3 L692.9,628.3 L693.5,628.4 L694.2,628.5 L694.8,628.5 L695.4,628.6 L696.1,628.7 L696.7,628.7 L697.4,628.8 L698.0,628.9 L698.7,628.9 L699.3,629.0 L700.0,629.1 L700.6,629.1 L701.2,629.2 L701.9,629.2 L702.5,629.3 L703.2,629.4 L703.8,629.4 L704.5,629.5 L705.1,629.5 L705.7,629.6 L706.4,629.6 L707.0,629.7 L707.7,629.7 L708.3,629.8 L709.0,629.8 L709.6,629.9 L710.3,629.9 L710.9,630.0 L711.5,630.0 L712.2,630.1 L712.8,630.1 L713.5,630.2 L714.1,630.2 L714.8,630.3 L715.4,630.3 L716.1,630.4 L716.7,630.4 L717.3,630.4 L718.0,630.5 L718.6,630.5 L719.3,630.6 L719.9,630.6 L720.6,630.6 L721.2,630.7 L721.9,630.7 L722.5,630.8 L723.1,630.8 L723.8,630.8 L724.4,630.9 L725.1,630.9 L725.7,630.9 L726.4,631.0 L727.0,631.0 L727.6,631.1 L728.3,631.1 L728.9,631.1 L729.6,631.2 L730.2,631.2 L730.9,631.2 L731.5,631.3 L732.2,631.3 L732.8,631.3 L733.4,631.3 L734.1,631.4 L734.7,631.4 L735.4,631.4 L736.0,631.5 L736.7,631.5 L737.3,631.5 L738.0,631.5 L738.6,631.6 L739.2,631.6 L739.9,631.6 L740.5,631.7 L741.2,631.7 L741.8,631.7 L742.5,631.7 L743.1,631.8 L743.8,631.8 L744.4,631.8 L745.0,631.8 L745.7,631.9 L746.3,631.9 L747.0,631.9 L747.6,631.9 L748.3,631.9 L748.9,632.0 L749.5,632.0 L750.2,632.0 L750.8,632.0 L751.5,632.1 L752.1,632.1 L752.8,632.1 L753.4,632.1 L754.1,632.1 L754.7,632.2 L755.3,632.2 L756.0,632.2 L756.6,632.2 L757.3,632.2 L757.9,632.2 L758.6,632.3 L759.2,632.3 L759.9,632.3 L760.5,632.3 L761.1,632.3 L761.8,632.4 L762.4,632.4 L763.1,632.4 L763.7,632.4 L764.4,632.4 L765.0,632.4 L765.7,632.4 L766.3,632.5 L766.9,632.5 L767.6,632.5 L768.2,632.5 L768.9,632.5 L769.5,632.5 L770.2,632.6 L770.8,632.6 L771.4,632.6 L772.1,632.6 L772.7,632.6 L773.4,632.6 L774.0,632.6 L774.7,632.6 L775.3,632.7 L776.0,632.7 L776.6,632.7 L777.2,632.7 L777.9,632.7 L778.5,632.7 L779.2,632.7 L779.8,632.7 L780.5,632.8 L781.1,632.8 L781.8,632.8 L782.4,632.8 L783.0,632.8 L783.7,632.8 L784.3,632.8 L785.0,632.8 L785.6,632.8 L786.3,632.9 L786.9,632.9 L787.6,632.9 L788.2,632.9 L788.8,632.9 L789.5,632.9 L790.1,632.9 L790.8,632.9 L791.4,632.9 L792.1,632.9 L792.7,632.9 L793.3,633.0 L794.0,633.0 L794.6,633.0 L795.3,633.0 L795.9,633.0 L796.6,633.0 L797.2,633.0 L797.9,633.0 L798.5,633.0 L799.1,633.0 L799.8,633.0 L800.4,633.0 L801.1,633.0 L801.7,633.1 L802.4,633.1 L803.0,633.1 L803.7,633.1 L804.3,633.1 L804.9,633.1 L805.6,633.1 L806.2,633.1 L806.9,633.1 L807.5,633.1 L808.2,633.1 L808.8,633.1 L809.5,633.1 L810.1,633.1 L810.7,633.2 L811.4,633.2 L812.0,633.2 L812.7,633.2 L813.3,633.2 L814.0,633.2 L814.6,633.2 L815.2,633.2 L815.9,633.2 L816.5,633.2 L817.2,633.2 L817.8,633.2 L818.5,633.2 L819.1,633.2 L819.8,633.2 L820.4,633.2 L821.0,633.2 L821.7,633.2 L822.3,633.2 L823.0,633.3 L823.6,633.3 L824.3,633.3 L824.9,633.3 L825.6,633.3 L826.2,633.3 L826.8,633.3 L827.5,633.3 L828.1,633.3 L828.8,633.3 L829.4,633.3 L830.1,633.3 L830.7,633.3 L831.4,633.3 L832.0,633.3 L832.6,633.3 L833.3,633.3 L833.9,633.3 L834.6,633.3 L835.2,633.3 L835.9,633.3 L836.5,633.3 L837.1,633.3 L837.8,633.3 L838.4,633.3 L839.1,633.4 L839.7,633.4 L840.4,633.4 L841.0,633.4 L841.7,633.4 L842.3,633.4 L842.9,633.4 L843.6,633.4 L844.2,633.4 L844.9,633.4 L845.5,633.4 L846.2,633.4 L846.8,633.4 L847.5,633.4 L848.1,633.4 L848.7,633.4 L849.4,633.4 L850.0,633.4 L850.7,633.4 L851.3,633.4 L852.0,633.4 L852.6,633.4 L853.3,633.4 L853.9,633.4 L854.5,633.4 L855.2,633.4 L855.8,633.4 L856.5,633.4 L857.1,633.4 L857.8,633.4 L858.4,633.4 L859.0,633.4 L859.7,633.4 L860.3,633.4 L861.0,633.4 L861.6,633.4 L862.3,633.4 L862.9,633.4 L863.6,633.5 L864.2,633.5 L864.8,633.5 L865.5,633.5 L866.1,633.5 L866.8,633.5 L867.4,633.5 L868.1,633.5 L868.7,633.5 L869.4,633.5 L870.0,633.5 L870.0,633.5" fill="none" stroke="#2418c8" stroke-width="2.2" stroke-linejoin="round"/>
<path d="M97.70,44.8v7.5M97.70,350.2v-7.5M130.91,44.8v4M130.91,350.2v-4M150.34,44.8v4M150.34,350.2v-4M164.12,44.8v4M164.12,350.2v-4M174.82,44.8v4M174.82,350.2v-4M183.55,44.8v4M183.55,350.2v-4M190.94,44.8v4M190.94,350.2v-4M197.34,44.8v4M197.34,350.2v-4M202.98,44.8v4M202.98,350.2v-4M208.03,44.8v7.5M208.03,350.2v-7.5M241.24,44.8v4M241.24,350.2v-4M260.67,44.8v4M260.67,350.2v-4M274.45,44.8v4M274.45,350.2v-4M285.14,44.8v4M285.14,350.2v-4M293.88,44.8v4M293.88,350.2v-4M301.27,44.8v4M301.27,350.2v-4M307.67,44.8v4M307.67,350.2v-4M313.31,44.8v4M313.31,350.2v-4M318.36,44.8v7.5M318.36,350.2v-7.5M351.57,44.8v4M351.57,350.2v-4M371.00,44.8v4M371.00,350.2v-4M384.78,44.8v4M384.78,350.2v-4M395.47,44.8v4M395.47,350.2v-4M404.21,44.8v4M404.21,350.2v-4M411.60,44.8v4M411.60,350.2v-4M417.99,44.8v4M417.99,350.2v-4M423.64,44.8v4M423.64,350.2v-4M428.69,44.8v7.5M428.69,350.2v-7.5M461.90,44.8v4M461.90,350.2v-4M481.33,44.8v4M481.33,350.2v-4M495.11,44.8v4M495.11,350.2v-4M505.80,44.8v4M505.80,350.2v-4M514.54,44.8v4M514.54,350.2v-4M521.92,44.8v4M521.92,350.2v-4M528.32,44.8v4M528.32,350.2v-4M533.97,44.8v4M533.97,350.2v-4M539.01,44.8v7.5M539.01,350.2v-7.5M572.23,44.8v4M572.23,350.2v-4M591.65,44.8v4M591.65,350.2v-4M605.44,44.8v4M605.44,350.2v-4M616.13,44.8v4M616.13,350.2v-4M624.87,44.8v4M624.87,350.2v-4M632.25,44.8v4M632.25,350.2v-4M638.65,44.8v4M638.65,350.2v-4M644.29,44.8v4M644.29,350.2v-4M649.34,44.8v7.5M649.34,350.2v-7.5M682.56,44.8v4M682.56,350.2v-4M701.98,44.8v4M701.98,350.2v-4M715.77,44.8v4M715.77,350.2v-4M726.46,44.8v4M726.46,350.2v-4M735.20,44.8v4M735.20,350.2v-4M742.58,44.8v4M742.58,350.2v-4M748.98,44.8v4M748.98,350.2v-4M754.62,44.8v4M754.62,350.2v-4M759.67,44.8v7.5M759.67,350.2v-7.5M792.88,44.8v4M792.88,350.2v-4M812.31,44.8v4M812.31,350.2v-4M826.10,44.8v4M826.10,350.2v-4M836.79,44.8v4M836.79,350.2v-4M845.52,44.8v4M845.52,350.2v-4M852.91,44.8v4M852.91,350.2v-4M859.31,44.8v4M859.31,350.2v-4M864.95,44.8v4M864.95,350.2v-4M870.00,44.8v7.5M870.00,350.2v-7.5M97.7,44.80h7.5M870.0,44.80h-7.5M97.7,95.70h7.5M870.0,95.70h-7.5M97.7,146.60h7.5M870.0,146.60h-7.5M97.7,197.50h7.5M870.0,197.50h-7.5M97.7,248.40h7.5M870.0,248.40h-7.5M97.7,299.30h7.5M870.0,299.30h-7.5M97.7,350.20h7.5M870.0,350.20h-7.5" stroke="#8e8e8e" stroke-width="1.5"/>
<rect x="97.7" y="44.8" width="772.30" height="305.40" fill="none" stroke="#8e8e8e" stroke-width="1.6"/>
<path d="M97.70,364.5v7.5M97.70,636.1v-7.5M130.91,364.5v4M130.91,636.1v-4M150.34,364.5v4M150.34,636.1v-4M164.12,364.5v4M164.12,636.1v-4M174.82,364.5v4M174.82,636.1v-4M183.55,364.5v4M183.55,636.1v-4M190.94,364.5v4M190.94,636.1v-4M197.34,364.5v4M197.34,636.1v-4M202.98,364.5v4M202.98,636.1v-4M208.03,364.5v7.5M208.03,636.1v-7.5M241.24,364.5v4M241.24,636.1v-4M260.67,364.5v4M260.67,636.1v-4M274.45,364.5v4M274.45,636.1v-4M285.14,364.5v4M285.14,636.1v-4M293.88,364.5v4M293.88,636.1v-4M301.27,364.5v4M301.27,636.1v-4M307.67,364.5v4M307.67,636.1v-4M313.31,364.5v4M313.31,636.1v-4M318.36,364.5v7.5M318.36,636.1v-7.5M351.57,364.5v4M351.57,636.1v-4M371.00,364.5v4M371.00,636.1v-4M384.78,364.5v4M384.78,636.1v-4M395.47,364.5v4M395.47,636.1v-4M404.21,364.5v4M404.21,636.1v-4M411.60,364.5v4M411.60,636.1v-4M417.99,364.5v4M417.99,636.1v-4M423.64,364.5v4M423.64,636.1v-4M428.69,364.5v7.5M428.69,636.1v-7.5M461.90,364.5v4M461.90,636.1v-4M481.33,364.5v4M481.33,636.1v-4M495.11,364.5v4M495.11,636.1v-4M505.80,364.5v4M505.80,636.1v-4M514.54,364.5v4M514.54,636.1v-4M521.92,364.5v4M521.92,636.1v-4M528.32,364.5v4M528.32,636.1v-4M533.97,364.5v4M533.97,636.1v-4M539.01,364.5v7.5M539.01,636.1v-7.5M572.23,364.5v4M572.23,636.1v-4M591.65,364.5v4M591.65,636.1v-4M605.44,364.5v4M605.44,636.1v-4M616.13,364.5v4M616.13,636.1v-4M624.87,364.5v4M624.87,636.1v-4M632.25,364.5v4M632.25,636.1v-4M638.65,364.5v4M638.65,636.1v-4M644.29,364.5v4M644.29,636.1v-4M649.34,364.5v7.5M649.34,636.1v-7.5M682.56,364.5v4M682.56,636.1v-4M701.98,364.5v4M701.98,636.1v-4M715.77,364.5v4M715.77,636.1v-4M726.46,364.5v4M726.46,636.1v-4M735.20,364.5v4M735.20,636.1v-4M742.58,364.5v4M742.58,636.1v-4M748.98,364.5v4M748.98,636.1v-4M754.62,364.5v4M754.62,636.1v-4M759.67,364.5v7.5M759.67,636.1v-7.5M792.88,364.5v4M792.88,636.1v-4M812.31,364.5v4M812.31,636.1v-4M826.10,364.5v4M826.10,636.1v-4M836.79,364.5v4M836.79,636.1v-4M845.52,364.5v4M845.52,636.1v-4M852.91,364.5v4M852.91,636.1v-4M859.31,364.5v4M859.31,636.1v-4M864.95,364.5v4M864.95,636.1v-4M870.00,364.5v7.5M870.00,636.1v-7.5M97.7,367.30h7.5M870.0,367.30h-7.5M97.7,433.88h7.5M870.0,433.88h-7.5M97.7,500.45h7.5M870.0,500.45h-7.5M97.7,567.02h7.5M870.0,567.02h-7.5M97.7,633.60h7.5M870.0,633.60h-7.5" stroke="#8e8e8e" stroke-width="1.5"/>
<rect x="97.7" y="364.5" width="772.30" height="271.60" fill="none" stroke="#8e8e8e" stroke-width="1.6"/>
<rect x="751.6" y="47.6" width="113.5" height="215.1" fill="none" stroke="#5a5a5a" stroke-width="1.6"/>
<text transform="translate(89.70,52.90) scale(1.0,1)" font-size="21.5" fill="#3a3a3a" text-anchor="end" >100</text>
<text transform="translate(89.70,103.80) scale(1.0,1)" font-size="21.5" fill="#3a3a3a" text-anchor="end" >50</text>
<text transform="translate(89.70,154.70) scale(1.0,1)" font-size="21.5" fill="#3a3a3a" text-anchor="end" >0</text>
<text transform="translate(89.00,206.00) scale(1.0,1)" font-size="21.5" fill="#3a3a3a" text-anchor="end" >-50</text>
<text transform="translate(89.00,256.90) scale(1.0,1)" font-size="21.5" fill="#3a3a3a" text-anchor="end" >-100</text>
<text transform="translate(89.00,307.80) scale(1.0,1)" font-size="21.5" fill="#3a3a3a" text-anchor="end" >-150</text>
<text transform="translate(89.00,358.70) scale(1.0,1)" font-size="21.5" fill="#3a3a3a" text-anchor="end" >-200</text>
<text transform="translate(88.50,375.70) scale(1.0,1)" font-size="21.5" fill="#3a3a3a" text-anchor="end" >-90</text>
<text transform="translate(88.50,442.27) scale(1.0,1)" font-size="21.5" fill="#3a3a3a" text-anchor="end" >-135</text>
<text transform="translate(88.50,508.85) scale(1.0,1)" font-size="21.5" fill="#3a3a3a" text-anchor="end" >-180</text>
<text transform="translate(88.50,575.42) scale(1.0,1)" font-size="21.5" fill="#3a3a3a" text-anchor="end" >-225</text>
<text transform="translate(88.50,642.00) scale(1.0,1)" font-size="21.5" fill="#3a3a3a" text-anchor="end" >-270</text>
<text transform="translate(97.00,671.6) scale(1.0,1)" font-size="21.5" fill="#3a3a3a" text-anchor="middle">10<tspan font-size="16.5" dy="-10">0</tspan></text>
<text transform="translate(207.33,671.6) scale(1.0,1)" font-size="21.5" fill="#3a3a3a" text-anchor="middle">10<tspan font-size="16.5" dy="-10">1</tspan></text>
<text transform="translate(317.66,671.6) scale(1.0,1)" font-size="21.5" fill="#3a3a3a" text-anchor="middle">10<tspan font-size="16.5" dy="-10">2</tspan></text>
<text transform="translate(427.99,671.6) scale(1.0,1)" font-size="21.5" fill="#3a3a3a" text-anchor="middle">10<tspan font-size="16.5" dy="-10">3</tspan></text>
<text transform="translate(538.31,671.6) scale(1.0,1)" font-size="21.5" fill="#3a3a3a" text-anchor="middle">10<tspan font-size="16.5" dy="-10">4</tspan></text>
<text transform="translate(648.64,671.6) scale(1.0,1)" font-size="21.5" fill="#3a3a3a" text-anchor="middle">10<tspan font-size="16.5" dy="-10">5</tspan></text>
<text transform="translate(758.97,671.6) scale(1.0,1)" font-size="21.5" fill="#3a3a3a" text-anchor="middle">10<tspan font-size="16.5" dy="-10">6</tspan></text>
<text transform="translate(869.30,671.6) scale(1.0,1)" font-size="21.5" fill="#3a3a3a" text-anchor="middle">10<tspan font-size="16.5" dy="-10">7</tspan></text>
<text transform="translate(758.70,74.50) scale(1.0,1)" font-size="21.5" fill="#1a1a1a" text-anchor="start" >Lo=10mH</text>
<text transform="translate(758.70,104.50) scale(1.0,1)" font-size="21.5" fill="#1a1a1a" text-anchor="start" >Co=1uF</text>
<text transform="translate(758.70,134.50) scale(1.0,1)" font-size="21.5" fill="#1a1a1a" text-anchor="start" >R=150</text>
<text transform="translate(758.70,164.50) scale(1.0,1)" font-size="21.5" fill="#1a1a1a" text-anchor="start" >Lin=75uH</text>
<text transform="translate(758.70,194.50) scale(1.0,1)" font-size="21.5" fill="#1a1a1a" text-anchor="start" >Vin=700</text>
<text transform="translate(758.70,224.50) scale(1.0,1)" font-size="21.5" fill="#1a1a1a" text-anchor="start" >Kp=0.002</text>
<text transform="translate(758.70,254.50) scale(1.0,1)" font-size="21.5" fill="#1a1a1a" text-anchor="start" >Ki=0.001</text>
<text transform="translate(482.40,31.40) scale(1.0,1)" font-size="21.6" fill="#1a1a1a" text-anchor="middle" >Bode Diagram</text>
<text transform="translate(483.10,699.00) scale(1.0,1)" font-size="21.6" fill="#1a1a1a" text-anchor="middle" >Frequency&#160;&#160;(rad/s)</text>
<text transform="translate(35.2,196.7) rotate(-90) scale(1.0,1)" font-size="21.6" fill="#1a1a1a" text-anchor="middle">Magnitude (dB)</text>
<text transform="translate(35.2,499.7) rotate(-90) scale(1.0,1)" font-size="21.6" fill="#1a1a1a" text-anchor="middle">Phase (deg)</text>
</svg>
</body></html>
